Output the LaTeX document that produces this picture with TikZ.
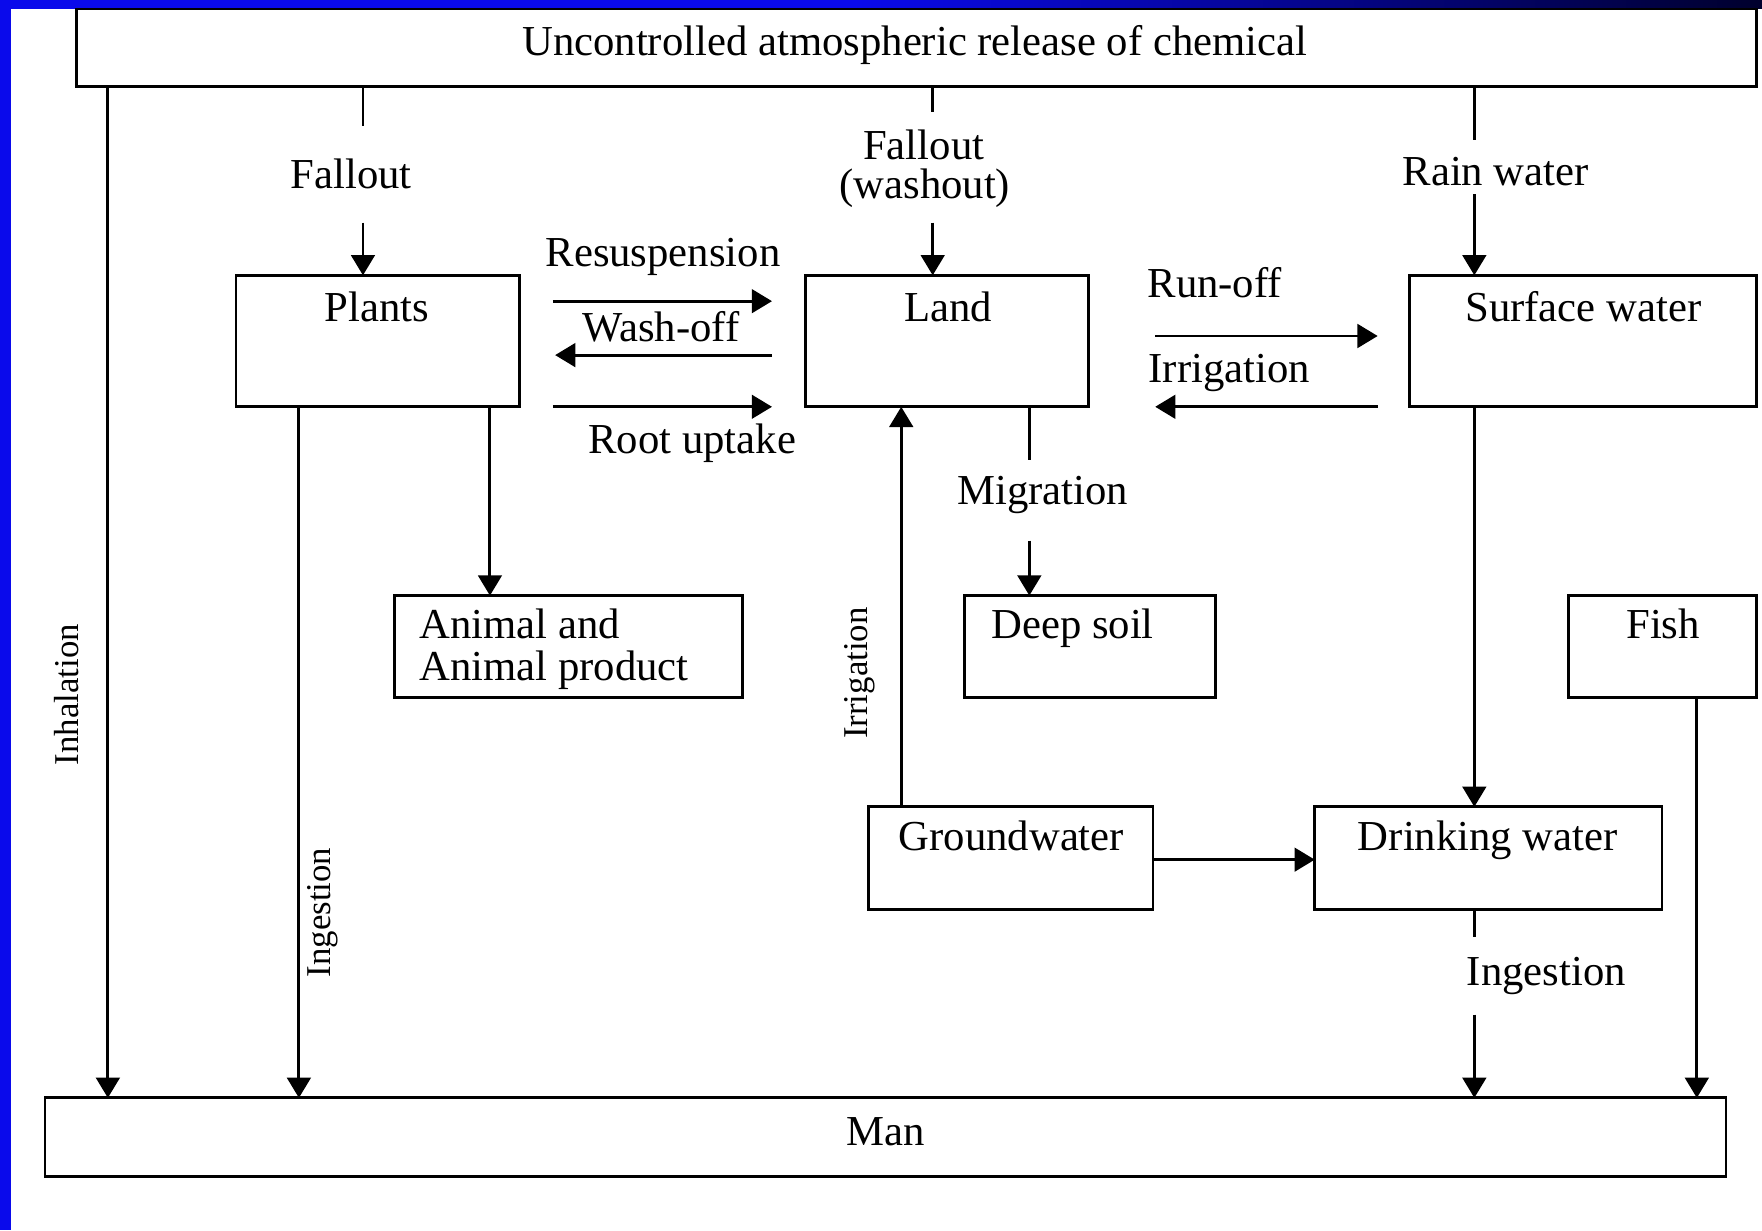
\documentclass[tikz,border=0pt]{standalone}
\usepackage{fontspec}
\setmainfont{Liberation Serif}
\usetikzlibrary{arrows.meta}
\definecolor{bblue}{RGB}{10,10,235}
\definecolor{navy}{RGB}{0,0,45}
\begin{document}
\begin{tikzpicture}[x=1pt,y=-1pt,
  box/.style={draw,line width=2.5pt,inner sep=0pt,outer sep=0pt},
  txt/.style={font=\fontsize{38}{44}\selectfont,inner sep=0pt},
  vtxt/.style={font=\fontsize{31}{36}\selectfont,inner sep=0pt,rotate=90},
  ln/.style={line width=2.6pt},
  arr/.style={line width=2.6pt,-{Triangle[length=18pt,width=21pt]}}]
\useasboundingbox (0,0) rectangle (1568,1095);
\fill[white] (0,0) rectangle (1568,1095);
% blue frame
\fill[bblue] (0,0) rectangle (10,1095);
\fill[bblue] (0,0) rectangle (760,8);
\shade[left color=bblue,right color=navy] (760,0) rectangle (1568,8);
% boxes
\node[box,minimum width=1495pt,minimum height=69pt] (top) at (815.5,42.5) {};
\node[box,minimum width=252pt,minimum height=117pt] (plants) at (336,303.5) {};
\node[box,minimum width=252pt,minimum height=117pt] (land) at (843,303.5) {};
\node[box,minimum width=309pt,minimum height=117pt] (surf) at (1408.5,303.5) {};
\node[box,minimum width=310pt,minimum height=91pt] (animal) at (506,575.5) {};
\node[box,minimum width=224pt,minimum height=91pt] (deep) at (970,575.5) {};
\node[box,minimum width=167pt,minimum height=91pt] (fish) at (1479.5,575.5) {};
\node[box,minimum width=253pt,minimum height=91pt] (ground) at (899.5,763.5) {};
\node[box,minimum width=309pt,minimum height=91pt] (drink) at (1324.5,763.5) {};
\node[box,minimum width=1496pt,minimum height=70pt] (man) at (788,1012) {};
% box texts
\node[txt,anchor=base] (topT) at (814,49) {Uncontrolled atmospheric release of chemical};
\node[txt,anchor=base] (plantsT) at (335.5,286.5) {Plants};
\node[txt,anchor=base] (landT) at (844,286.5) {Land};
\node[txt,anchor=base] (surfT) at (1409,286.5) {Surface water};
\node[txt,anchor=base west] (animalT1) at (373,568) {Animal and};
\node[txt,anchor=base west] (animalT2) at (373,606) {Animal product};
\node[txt,anchor=base west] (deepT) at (882,568) {Deep soil};
\node[txt,anchor=base] (fishT) at (1480,568) {Fish};
\node[txt,anchor=base] (groundT) at (900,757) {Groundwater};
\node[txt,anchor=base] (drinkT) at (1324,757) {Drinking water};
\node[txt,anchor=base] (manT) at (788,1019) {Man};
% coordinates
\coordinate (cInh) at (96,0);
\coordinate (cPI) at (266,0);
\coordinate (cPA) at (436,0);
\coordinate (fA1) at (323,112);
\coordinate (fA2) at (323,198);
\coordinate (fB1) at (830,100);
\coordinate (fB2) at (830,198);
\coordinate (rW1) at (1312,125);
\coordinate (rW2) at (1312,173);
\coordinate (rs1) at (492,268);
\coordinate (rs2) at (687,268);
\coordinate (wo1) at (687,316);
\coordinate (wo2) at (494,316);
\coordinate (ru1) at (492,362);
\coordinate (ru2) at (687,362);
\coordinate (ro1) at (1028,299);
\coordinate (ro2) at (1226,299);
\coordinate (ir1) at (1226,362);
\coordinate (ir2) at (1028,362);
\coordinate (mg1) at (916,409);
\coordinate (mg2) at (916,481);
\coordinate (cGL) at (802,0);
\coordinate (cGD) at (0,765);
\coordinate (cSD) at (1312,0);
\coordinate (dm1) at (1312,834);
\coordinate (dm2) at (1312,903);
\coordinate (cFM) at (1510,0);
% connectors
\draw[arr] (top.south -| cInh) -- (man.north -| cInh);
\draw[arr] (plants.south -| cPI) -- (man.north -| cPI);
\draw[arr] (plants.south -| cPA) -- (animal.north -| cPA);
\draw[ln] (top.south -| fA1) -- (fA1);
\draw[arr] (fA2) -- (plants.north -| fA2);
\draw[ln] (top.south -| fB1) -- (fB1);
\draw[arr] (fB2) -- (land.north -| fB2);
\draw[ln] (top.south -| rW1) -- (rW1);
\draw[arr] (rW2) -- (surf.north -| rW2);
\draw[arr] (rs1) -- (rs2);
\draw[arr] (wo1) -- (wo2);
\draw[arr] (ru1) -- (ru2);
\draw[arr] (ro1) -- (ro2);
\draw[arr] (ir1) -- (ir2);
\draw[ln] (land.south -| mg1) -- (mg1);
\draw[arr] (mg2) -- (deep.north -| mg2);
\draw[arr] (ground.north -| cGL) -- (land.south -| cGL);
\draw[arr] (ground.east |- cGD) -- (drink.west |- cGD);
\draw[arr] (surf.south -| cSD) -- (drink.north -| cSD);
\draw[ln] (drink.south -| dm1) -- (dm1);
\draw[arr] (dm2) -- (man.north -| dm2);
\draw[arr] (fish.south -| cFM) -- (man.north -| cFM);
% connector labels
\node[txt,anchor=base] (lFallA) at (312.5,167.5) {Fallout};
\node[txt,anchor=base] (lFallB1) at (822,142) {Fallout};
\node[txt,anchor=base] (lFallB2) at (823,177) {(washout)};
\node[txt,anchor=base] (lRain) at (1331,165) {Rain water};
\node[txt,anchor=base] (lResus) at (590,237) {Resuspension};
\node[txt,anchor=base] (lWash) at (588,304) {Wash-off};
\node[txt,anchor=base] (lRoot) at (616,404) {Root uptake};
\node[txt,anchor=base west] (lRun) at (1021,265) {Run-off};
\node[txt,anchor=base] (lIrrH) at (1094,340) {Irrigation};
\node[txt,anchor=base] (lMig) at (928,449) {Migration};
\node[txt,anchor=base] (lIngR) at (1376,877) {Ingestion};
\node[vtxt] (lInh) at (59,618) {Inhalation};
\node[vtxt] (lIngL) at (287,812) {Ingestion};
\node[vtxt] (lIrrV) at (765,599) {Irrigation};
\end{tikzpicture}
\end{document}
